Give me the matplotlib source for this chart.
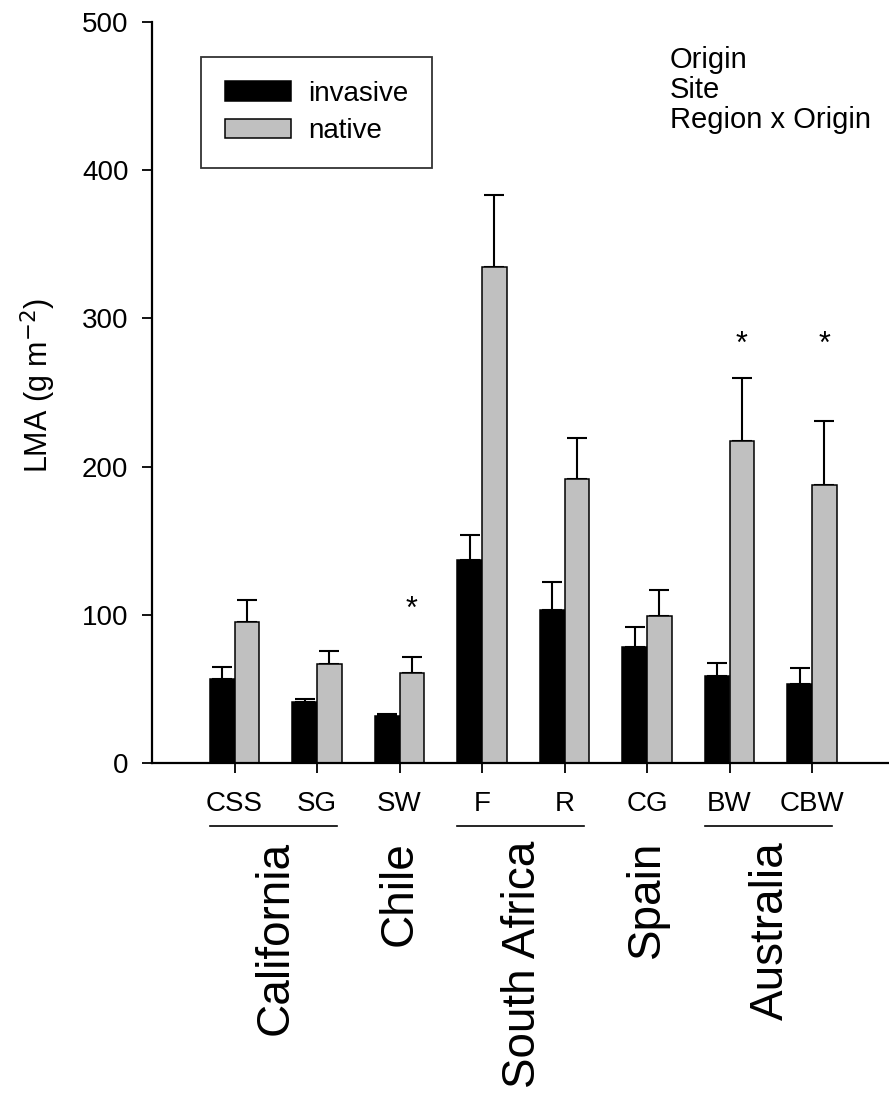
import matplotlib.pyplot as plt
import numpy as np

plt.rcParams['font.family'] = ['Liberation Sans', 'DejaVu Sans']

# Data
sites = ["CSS", "SG", "SW", "F", "R", "CG", "BW", "CBW"]
invasive = [57, 41, 31.5, 137, 103, 78, 58.5, 53]
invasive_err = [8, 2, 1.5, 17, 19, 13.5, 9, 11]
native = [95, 67, 60.5, 335, 191.5, 99, 217, 187.5]
native_err = [15, 8.5, 11, 48.5, 28, 17.5, 43, 43]
star_sites = [2, 6, 7]
star_heights = [108, 287, 287]
regions = ["California", "Chile", "South Africa", "Spain", "Australia"]
region_sites = [(0, 1), (2, 2), (3, 4), (5, 5), (6, 7)]
stats_text = ["Origin", "Site", "Region x Origin"]

W, H = 889, 1098
fig = plt.figure(figsize=(W / 100, H / 100), dpi=100)
ax = fig.add_axes([152 / W, 335 / H, 737 / W, 741 / H])
px = 500 / 741  # data units per pixel on the y axis

x = np.arange(1, len(sites) + 1)
bw = 0.30
ax.bar(x - bw / 2, invasive, bw, color="black", edgecolor="black", linewidth=1.1,
       label="invasive", zorder=2)
ax.bar(x + bw / 2, native, bw, color="#c0c0c0", edgecolor="black", linewidth=1.1,
       label="native", zorder=2)
ax.errorbar(x - bw / 2, invasive, yerr=[np.zeros(len(x)), invasive_err], fmt="none",
            ecolor="black", elinewidth=1.5, capsize=7.5, capthick=1.5, zorder=1)
ax.errorbar(x + bw / 2, native, yerr=[np.zeros(len(x)), native_err], fmt="none",
            ecolor="black", elinewidth=1.5, capsize=7.5, capthick=1.5, zorder=1)

for i, h in zip(star_sites, star_heights):
    ax.annotate("*", (x[i] + bw / 2, h), xytext=(0, -5), textcoords="offset points",
                ha="center", va="center", fontsize=22)

ax.set_xlim(0, 737 / 82.5)
ax.set_ylim(0, 500)
ax.set_yticks([0, 100, 200, 300, 400, 500])
ax.set_xticks(x)
ax.set_xticklabels([])
ax.tick_params(axis="y", direction="out", length=7, width=1.3, labelsize=20, pad=10)
ax.tick_params(axis="x", direction="out", length=7, width=1.3)
for side in ["top", "right"]:
    ax.spines[side].set_visible(False)
for side in ["left", "bottom"]:
    ax.spines[side].set_linewidth(1.6)
ax.set_ylabel("LMA (g m$^{-2}$)", fontsize=22)
ax.yaxis.set_label_coords(-0.127, 0.51)

leg = ax.legend(loc="upper left", bbox_to_anchor=(49 / 737, 1 - 35 / 741), fontsize=20,
                frameon=True, fancybox=False, edgecolor="black", handlelength=2.4,
                handleheight=0.72, borderpad=0.85, labelspacing=0.42, handletextpad=0.6,
                borderaxespad=0)
leg.get_frame().set_linewidth(1.3)

ax.text(518 / 737, 1 - 24 / 741, "\n".join(stats_text), transform=ax.transAxes,
        ha="left", va="top", fontsize=21, linespacing=1.1)

# site labels, underlines and region labels below the axis
for xi, s in zip(x, sites):
    ax.text(xi, -41 * px, s, ha="center", va="center", fontsize=20, clip_on=False)
for name, (a, b) in zip(regions, region_sites):
    if b > a:
        ax.plot([x[a] - 0.30, x[b] + 0.24], [-63 * px, -63 * px], color="black", lw=1.2,
                clip_on=False)
    xm = (x[a] + x[b]) / 2
    ax.text(xm, -78 * px, name, ha="center", va="top", rotation=90, fontsize=33,
            clip_on=False)

fig.savefig("out.png", dpi=100)
